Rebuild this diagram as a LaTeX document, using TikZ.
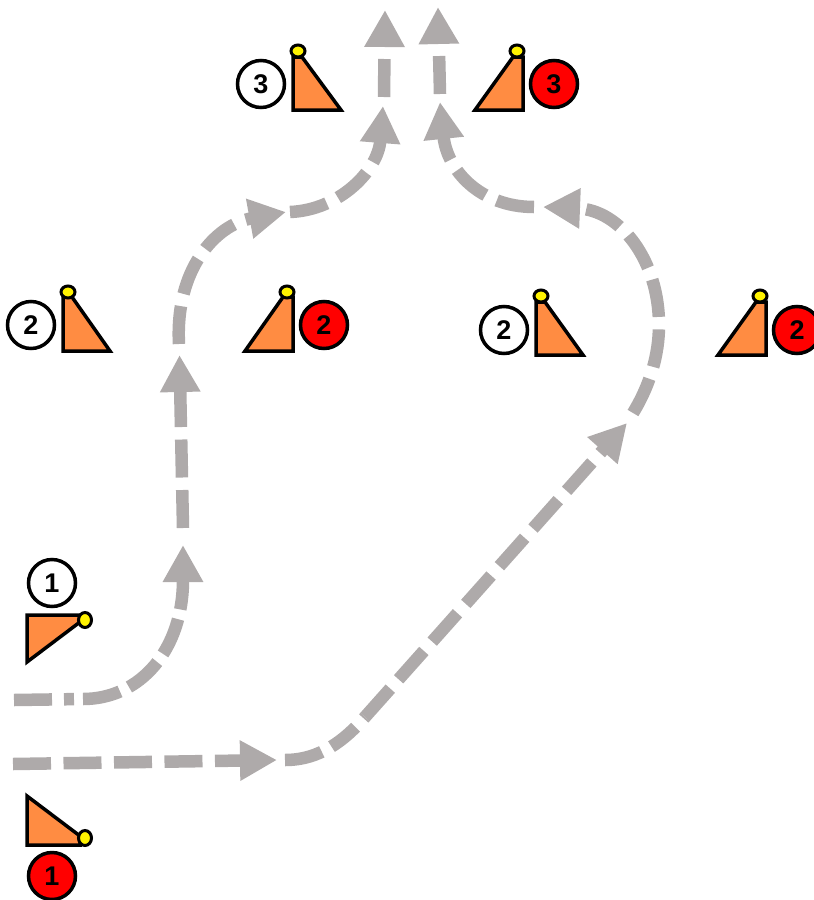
\documentclass[tikz,border=0pt]{standalone}
\usepackage{fontspec}
\setmainfont{Liberation Sans}
\usepackage{xcolor}
\usetikzlibrary{arrows.meta}

\definecolor{routegray}{RGB}{174,170,170}
\definecolor{coneorange}{RGB}{255,140,66}

\tikzset{
    lane/.style={routegray, line width=12.5pt, dash pattern=on 38pt off 12.5pt},
    route/.style={lane, -{Triangle[length=37pt,width=38pt]}},
    cone/.style={draw=black, fill=coneorange, line width=3.5pt, line join=miter},
    lamp/.style={draw=black, fill=yellow, line width=3pt},
    badge/.style={circle, draw=black, line width=3.5pt, minimum size=47pt, inner sep=0pt,
        font=\bfseries\fontsize{27}{27}\selectfont},
    badgewhite/.style={badge, fill=white},
    badgered/.style={badge, fill=red}
}

\begin{document}
\begin{tikzpicture}[x=1pt, y=-1pt]
\clip (0,0) rectangle (814,900);

% Draw the upper lane
\coordinate (upstart) at (14,700);
\coordinate (upbend) at (83,699);
\coordinate (uptip) at (183,545);
\coordinate (leftlow) at (183,528);
\coordinate (lefttip) at (179.5,355);
\coordinate (leftup) at (179,344);
\coordinate (toptip) at (286,212);
\coordinate (topstart) at (290,212);
\coordinate (mergetip) at (383,106);
\coordinate (exitstart) at (384,97);
\coordinate (exittip) at (385,10);
\draw[route, dash pattern=on 38pt off 12pt on 10pt off 9pt on 38pt off 10pt on 38pt off 10pt on 38pt off 10pt on 38pt off 10pt]
    (upstart) -- (upbend) .. controls (140,699) and (183,650) .. (uptip);
\draw[route] (leftlow) -- (lefttip);
\draw[route] (leftup) .. controls (175,270) and (215,225) .. (toptip);
\draw[route] (topstart) .. controls (340,210) and (378,170) .. (mergetip);
\draw[route] (exitstart) -- (exittip);

% Draw the lower lane
\coordinate (lowstart) at (13,764);
\coordinate (lowtip) at (277,760);
\coordinate (diagstart) at (285,760);
\coordinate (diagbend) at (365,717);
\coordinate (diagtip) at (627,423);
\coordinate (loopstart) at (633,413);
\coordinate (loopside) at (659,325);
\coordinate (looptip) at (543,207);
\coordinate (backstart) at (534,207);
\coordinate (backtip) at (440,102);
\coordinate (outstart) at (440,94);
\coordinate (outtip) at (438,7);
\draw[route] (lowstart) -- (lowtip);
\draw[lane, dash pattern=on 38pt off 11pt on 31pt off 12pt]
    (diagstart) .. controls (320,760) and (345,740) .. (diagbend);
\draw[route] (diagbend) -- (diagtip);
\draw[route] (loopstart) .. controls (650,385) and (659,355) .. (loopside)
    .. controls (659,260) and (620,210) .. (looptip);
\draw[route] (backstart) .. controls (480,207) and (447,170) .. (backtip);
\draw[route] (outstart) -- (outtip);

% Draw the cones of step 1
\draw[cone] (27,615) -- (80,615) -- (80,622) -- (27,662) -- cycle;
\draw[lamp] (85,620) ellipse (6.5pt and 7.5pt);
\draw[cone] (27,796) -- (80,836) -- (80,845) -- (27,845) -- cycle;
\draw[lamp] (85,838) ellipse (6.5pt and 7.5pt);

% Draw the cones of step 2
\draw[cone] (63,351) -- (110,351) -- (72,297) -- (63,297) -- cycle;
\draw[lamp] (68,292) ellipse (7pt and 6pt);
\draw[cone] (245,351) -- (293,351) -- (293,297) -- (283,297) -- cycle;
\draw[lamp] (287,292) ellipse (7pt and 6pt);
\draw[cone] (536,355) -- (583,355) -- (545,302) -- (536,302) -- cycle;
\draw[lamp] (541,296) ellipse (7pt and 6pt);
\draw[cone] (718,355) -- (766,355) -- (766,302) -- (756,302) -- cycle;
\draw[lamp] (760,296) ellipse (7pt and 6pt);

% Draw the cones of step 3
\draw[cone] (293,110) -- (341,110) -- (302,57) -- (293,57) -- cycle;
\draw[lamp] (298,51) ellipse (7pt and 6pt);
\draw[cone] (475,110) -- (523,110) -- (523,57) -- (513,57) -- cycle;
\draw[lamp] (517,51) ellipse (7pt and 6pt);

% Draw the numbered badges
\node[badgewhite] (whiteone) at (52,583) {1};
\node[badgered] (redone) at (52,876) {1};
\node[badgewhite] (whitetwoa) at (31,325) {2};
\node[badgered] (redtwoa) at (324,325) {2};
\node[badgewhite] (whitetwob) at (504,330) {2};
\node[badgered] (redtwob) at (797,330) {2};
\node[badgewhite] (whitethree) at (261,84) {3};
\node[badgered] (redthree) at (554,84) {3};
\end{tikzpicture}
\end{document}
